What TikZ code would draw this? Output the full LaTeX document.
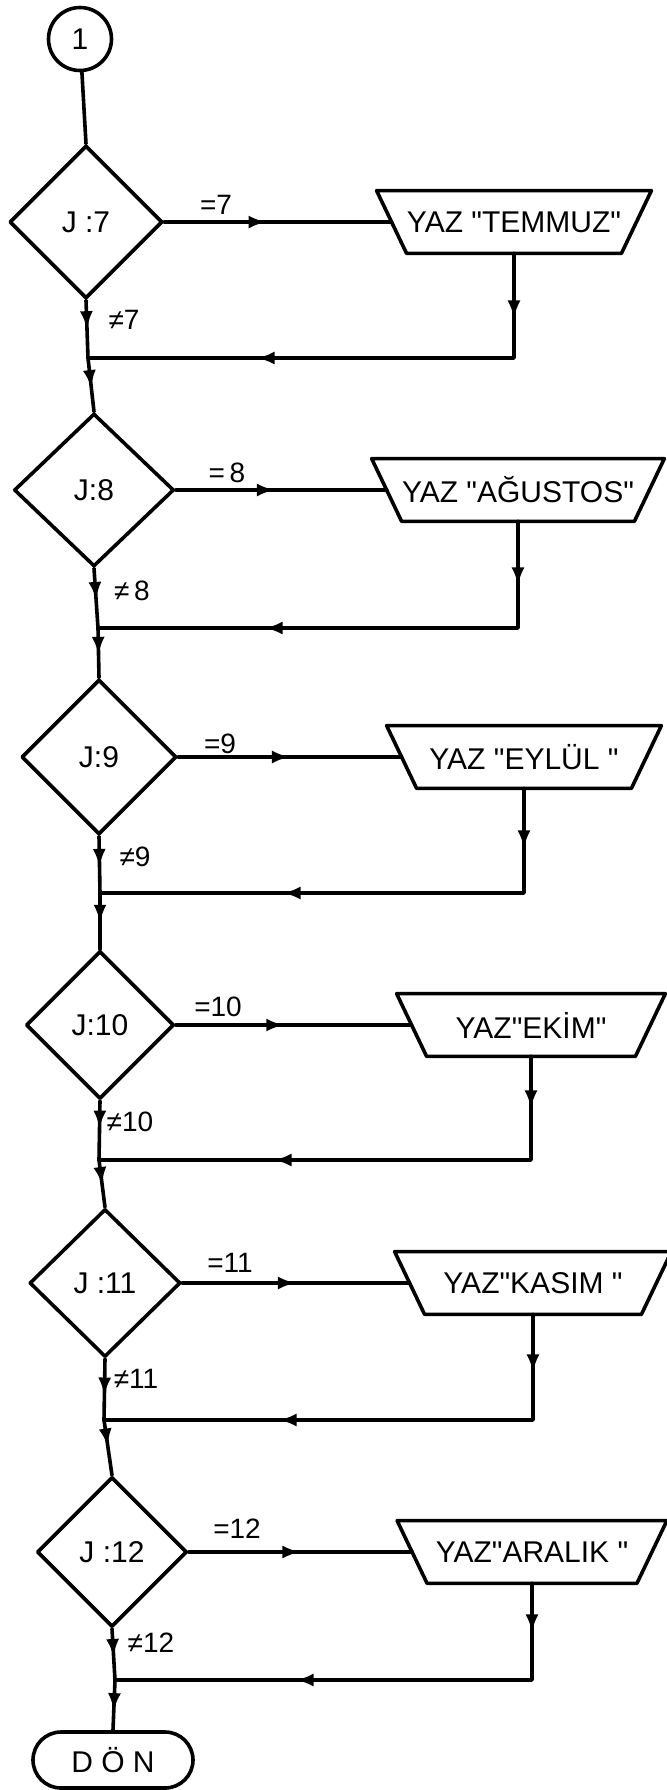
\documentclass[tikz,border=0pt]{standalone}
\usepackage{fontspec}
\setmainfont{Liberation Sans}
\usetikzlibrary{shapes.geometric,shapes.misc,arrows.meta,decorations.markings}
\newcommand{\qq}{\textquotedbl}
\tikzset{
  ln/.style={line width=1.8pt, line join=round, line cap=round},
  txt/.style={font=\fontsize{15}{18}\selectfont},
  lbl/.style={font=\fontsize{14}{16}\selectfont, inner sep=0pt},
  circ/.style={circle, draw, ln, txt, minimum size=31.5pt, inner sep=0pt},
  dec/.style={diamond, draw, ln, txt, minimum width=#1, inner sep=0pt},
  trap/.style={rectangle, txt, minimum height=31pt, minimum width=#1, inner sep=0pt},
  term/.style={rounded rectangle, draw, ln, txt, minimum width=80pt, minimum height=28pt, inner sep=0pt},
  marr/.style={postaction={decorate,decoration={markings,mark=at position #1 with {\arrow{Latex[length=9pt,width=6.5pt]}}}}}
}
\begin{document}
\begin{tikzpicture}[x=0.5pt,y=-0.5pt]
\useasboundingbox (0,0) rectangle (666,1790);

% nodes
\node[circ] (c0) at (80,39) {1};

\node[dec=76.5pt, minimum height=76.5pt] (d1) at (86,222) {J :7};
\node[trap=103.5pt] (t1) at (514,222) {YAZ \qq TEMMUZ\qq};
\coordinate (j1) at (88,358);

\node[dec=80pt, minimum height=76.5pt] (d2) at (94,490) {J:8};
\node[trap=104pt] (t2) at (518,490) {YAZ \qq AĞUSTOS\qq};
\coordinate (j2) at (98,628);

\node[dec=77.5pt, minimum height=77.5pt] (d3) at (99,757) {J:9};
\node[trap=107pt] (t3) at (524,757) {YAZ \qq EYLÜL \qq};
\coordinate (j3) at (100,893);

\node[dec=74pt, minimum height=74pt] (d4) at (100,1025) {J:10};
\node[trap=104pt] (t4) at (531,1025) {YAZ\qq EKİM\qq};
\coordinate (j4) at (99,1160);

\node[dec=75.5pt, minimum height=74pt] (d5) at (105,1283) {J :11};
\node[trap=108pt] (t5) at (533,1283) {YAZ\qq KASIM \qq};
\coordinate (j5) at (104,1420);

\node[dec=75pt, minimum height=75pt] (d6) at (112,1552) {J :12};
\node[trap=104.5pt] (t6) at (532,1552) {YAZ\qq ARALIK \qq};
\coordinate (j6) at (115,1680);

\node[term] (end) at (113,1760) {D Ö N};

% trapezoid outlines
\foreach \t in {t1,t2,t3,t4,t5,t6}
  \draw[ln] (\t.south west) -- (\t.south east) -- ([xshift=15pt]\t.north east)
            -- ([xshift=-15pt]\t.north west) -- cycle;

% labels
\node[lbl] (e7) at (216,205) {=7};
\node[lbl] (n7) at (124,320) {≠7};
\node[lbl] (e8) at (227,473) {=\,8};
\node[lbl] (n8) at (132,591) {≠\,8};
\node[lbl] (e9) at (220,744) {=9};
\node[lbl] (n9) at (135,857) {≠9};
\node[lbl] (e10) at (218,1007) {=10};
\node[lbl] (n10) at (130,1122) {≠10};
\node[lbl] (e11) at (230,1263) {=11};
\node[lbl] (n11) at (136,1379) {≠11};
\node[lbl] (e12) at (237,1529) {=12};
\node[lbl] (n12) at (151,1643) {≠12};

% connectors
\draw[ln] (c0) -- (d1.north);

\draw[ln, marr=0.45] (d1.east) -- ([xshift=-7.5pt]t1.west);
\draw[ln, marr=32.5pt, marr=181pt] (t1.south) |- (j1);
\draw[ln, marr=0.5] (d1.south) -- (j1);
\draw[ln, marr=0.56] (j1) -- (d2.north);

\draw[ln, marr=0.47] (d2.east) -- ([xshift=-7.5pt]t2.west);
\draw[ln, marr=32pt, marr=180pt] (t2.south) |- (j2);
\draw[ln, marr=0.53] (d2.south) -- (j2);
\draw[ln, marr=0.54] (j2) -- (d3.north);

\draw[ln, marr=0.5] (d3.east) -- ([xshift=-7.5pt]t3.west);
\draw[ln, marr=30pt, marr=173pt] (t3.south) |- (j3);
\draw[ln, marr=0.54] (d3.south) -- (j3);
\draw[ln, marr=0.53] (j3) -- (d4.north);

\draw[ln, marr=0.46] (d4.east) -- ([xshift=-7.5pt]t4.west);
\draw[ln, marr=26pt, marr=180.5pt] (t4.south) |- (j4);
\draw[ln, marr=0.47] (d4.south) -- (j4);
\draw[ln, marr=0.53] (j4) -- (d5.north);

\draw[ln, marr=0.5] (d5.east) -- ([xshift=-7.5pt]t5.west);
\draw[ln, marr=29pt, marr=180pt] (t5.south) |- (j5);
\draw[ln, marr=0.6] (d5.south) -- (j5);
\draw[ln, marr=0.48] (j5) -- (d6.north);

\draw[ln, marr=0.5] (d6.east) -- ([xshift=-7.5pt]t6.west);
\draw[ln, marr=24.5pt, marr=166.5pt] (t6.south) |- (j6);
\draw[ln, marr=0.55] (d6.south) -- (j6);
\draw[ln, marr=0.62] (j6) -- (end.north);
\end{tikzpicture}
\end{document}
